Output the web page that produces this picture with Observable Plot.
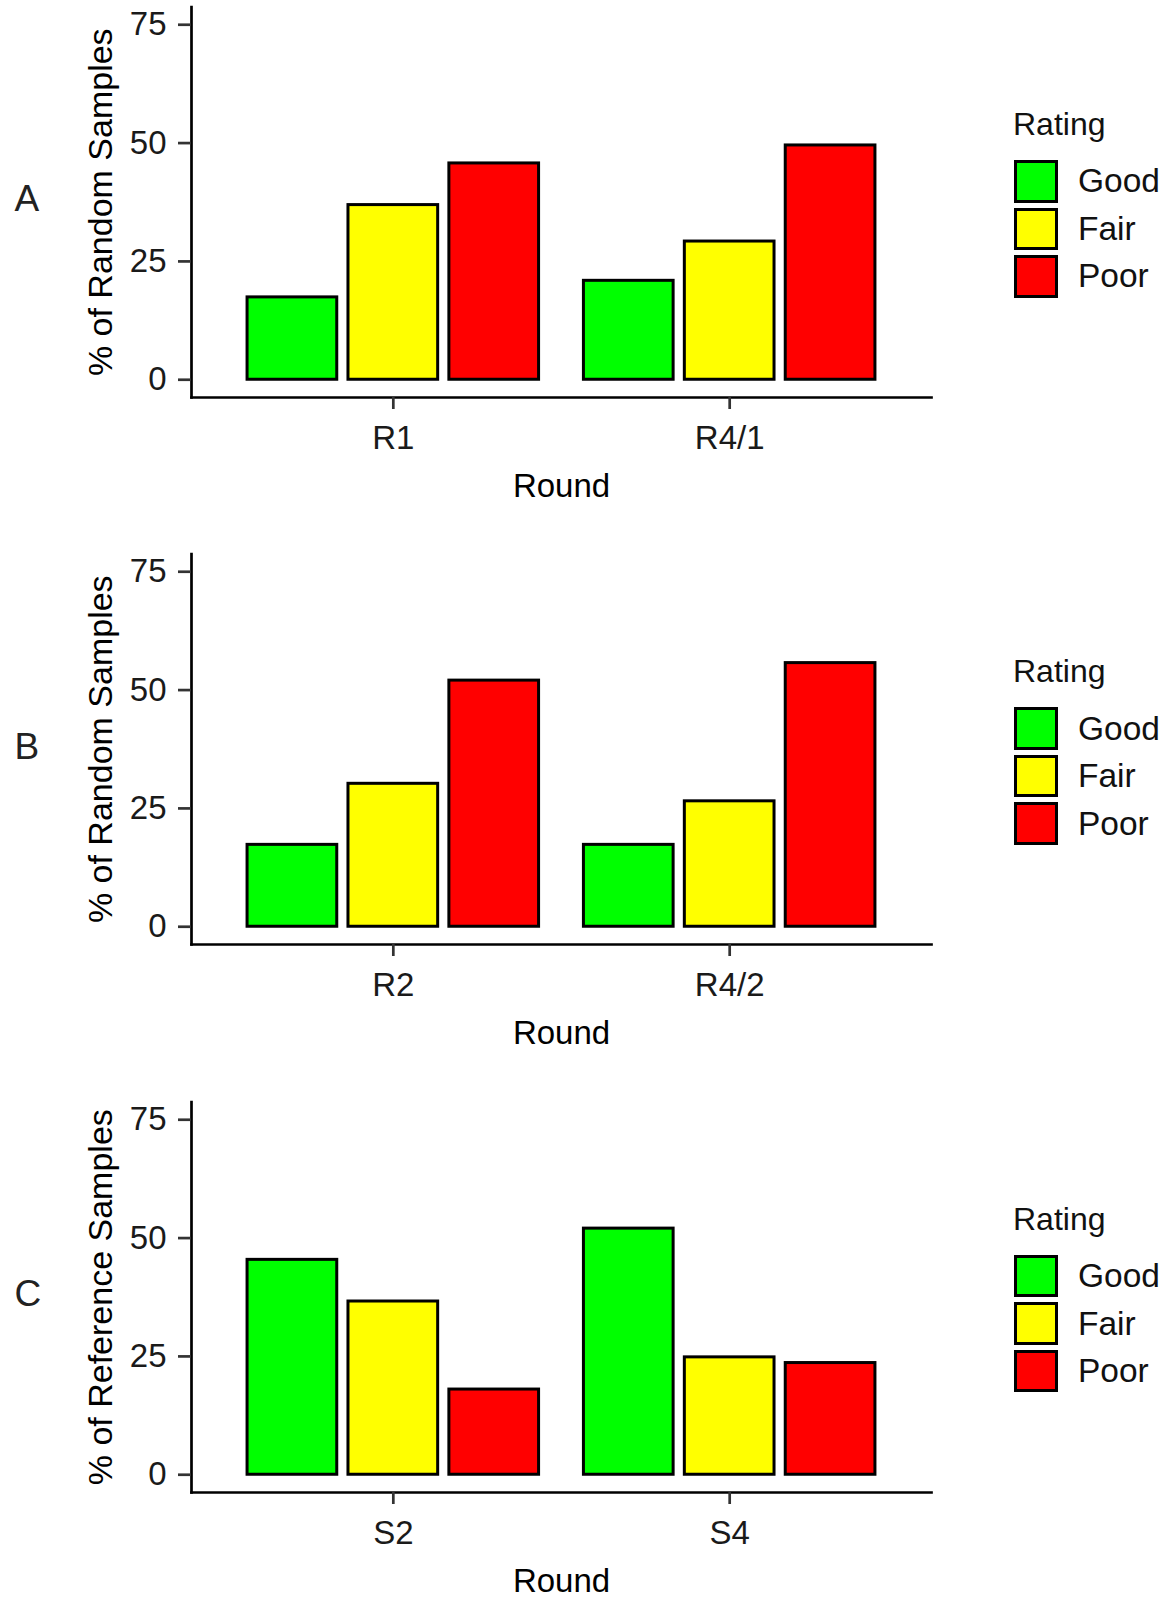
<!DOCTYPE html>
<html>
<head>
<meta charset="utf-8">
<script src="https://cdn.jsdelivr.net/npm/d3@7"></script>
<script src="https://cdn.jsdelivr.net/npm/@observablehq/plot@0.6"></script>
<style>
  body { margin: 0; background: #fff; }
  #page { position: relative; width: 1169px; height: 1597px; overflow: hidden;
          font-family: "Liberation Sans", Arial, sans-serif; }
  .panel { position: absolute; left: 0; width: 1169px; height: 547px; }
  .panel svg { position: absolute; left: 0; top: 0; }
  .letter { position: absolute; left: 14.5px; top: 180.4px; font-size: 37px; line-height: 37px; color: #222; }
  .legend { position: absolute; left: 1013px; top: 108px; color: #111; }
  .legend-title { font-size: 32px; line-height: 32px; height: 49.5px; }
  .legend-row { display: flex; align-items: center; height: 47.5px; }
  .legend-key { width: 44px; height: 42.5px; box-sizing: border-box; border: 3px solid #000; margin-left: 1px; }
  .legend-label { font-size: 33.5px; margin-left: 20px; white-space: nowrap; }
</style>
</head>
<body>
<div id="page"></div>
<script>
// Rating categories and their fills
const ratings = ["Good", "Fair", "Poor"];
const ratingColors = ["#00ff00", "#ffff00", "#ff0000"];

// Panel A: random samples, rounds R1 and R4/1 (% per rating)
const roundsA = ["R1", "R4/1"];
const goodA = [17.4, 20.9];
const fairA = [36.9, 29.2];
const poorA = [45.7, 49.5];

// Panel B: random samples, rounds R2 and R4/2
const roundsB = ["R2", "R4/2"];
const goodB = [17.3, 17.3];
const fairB = [30.2, 26.5];
const poorB = [52.0, 55.7];

// Panel C: reference samples, rounds S2 and S4
const roundsC = ["S2", "S4"];
const goodC = [45.4, 52.0];
const fairC = [36.6, 24.8];
const poorC = [18.0, 23.6];

const panelLetters = ["A", "B", "C"];
const yTitles = ["% of Random Samples", "% of Random Samples", "% of Reference Samples"];
const xTitle = "Round";
const yTicks = [0, 25, 50, 75];

const panels = [
  {letter: panelLetters[0], yTitle: yTitles[0], rounds: roundsA, series: [goodA, fairA, poorA]},
  {letter: panelLetters[1], yTitle: yTitles[1], rounds: roundsB, series: [goodB, fairB, poorB]},
  {letter: panelLetters[2], yTitle: yTitles[2], rounds: roundsC, series: [goodC, fairC, poorC]}
];

// Dodged bars: rounds sit at positions 1, 2 on a continuous axis;
// each rating takes a third of a 0.9-wide group, bars are 0.8/3 wide.
const dodge = 0.9, barWidth = 0.8;
function rowsFor(panel) {
  const rows = [];
  panel.rounds.forEach((round, i) => {
    ratings.forEach((rating, j) => {
      const center = (i + 1) + (j - 1) * dodge / ratings.length;
      const half = barWidth / ratings.length / 2;
      rows.push({round, rating, value: panel.series[j][i], x1: center - half, x2: center + half});
    });
  });
  return rows;
}

const font = '"Liberation Sans", Arial, sans-serif';
const page = document.getElementById("page");
const panelStride = 547.4;

panels.forEach((panel, p) => {
  const div = document.createElement("div");
  div.className = "panel";
  div.style.top = (p * panelStride) + "px";

  const chart = Plot.plot({
    width: 940,
    height: 500,
    marginLeft: 191,
    marginRight: 9,
    marginTop: 6.5,
    marginBottom: 103,
    x: {type: "linear", domain: [0.4, 2.6]},
    y: {domain: [-3.75, 78.75]},
    color: {domain: ratings, range: ratingColors},
    style: {fontFamily: font, fontSize: "33px", color: "#1a1a1a", background: "transparent", overflow: "visible"},
    marks: [
      Plot.rect(rowsFor(panel), {x1: "x1", x2: "x2", y1: 0, y2: "value", fill: "rating", stroke: "#000", strokeWidth: 3}),
      Plot.frame({anchor: "left", stroke: "#000", strokeWidth: 2.7, strokeLinecap: "square"}),
      Plot.frame({anchor: "bottom", stroke: "#000", strokeWidth: 2.7, strokeLinecap: "square"}),
      Plot.axisY(yTicks, {tickSize: 13, tickPadding: 12, stroke: "#333", strokeWidth: 2.7, fontSize: 33, label: null}),
      Plot.axisY([], {label: panel.yTitle, labelAnchor: "center", labelOffset: 104, labelArrow: "none", fontSize: 34, fill: "#000"}),
      Plot.axisX([1, 2], {tickFormat: (d) => panel.rounds[d - 1], tickSize: 12, tickPadding: 16, stroke: "#333", strokeWidth: 2.7, fontSize: 33, label: null}),
      Plot.axisX([], {label: xTitle, labelAnchor: "center", labelOffset: 99, labelArrow: "none", fontSize: 33, fill: "#000"})
    ]
  });
  div.appendChild(chart);

  const letter = document.createElement("div");
  letter.className = "letter";
  letter.textContent = panel.letter;
  div.appendChild(letter);

  const legend = document.createElement("div");
  legend.className = "legend";
  const title = document.createElement("div");
  title.className = "legend-title";
  title.textContent = "Rating";
  legend.appendChild(title);
  ratings.forEach((r, j) => {
    const row = document.createElement("div");
    row.className = "legend-row";
    const key = document.createElement("div");
    key.className = "legend-key";
    key.style.background = ratingColors[j];
    const lab = document.createElement("div");
    lab.className = "legend-label";
    lab.textContent = r;
    row.appendChild(key);
    row.appendChild(lab);
    legend.appendChild(row);
  });
  div.appendChild(legend);

  page.appendChild(div);
});
</script>
</body>
</html>
